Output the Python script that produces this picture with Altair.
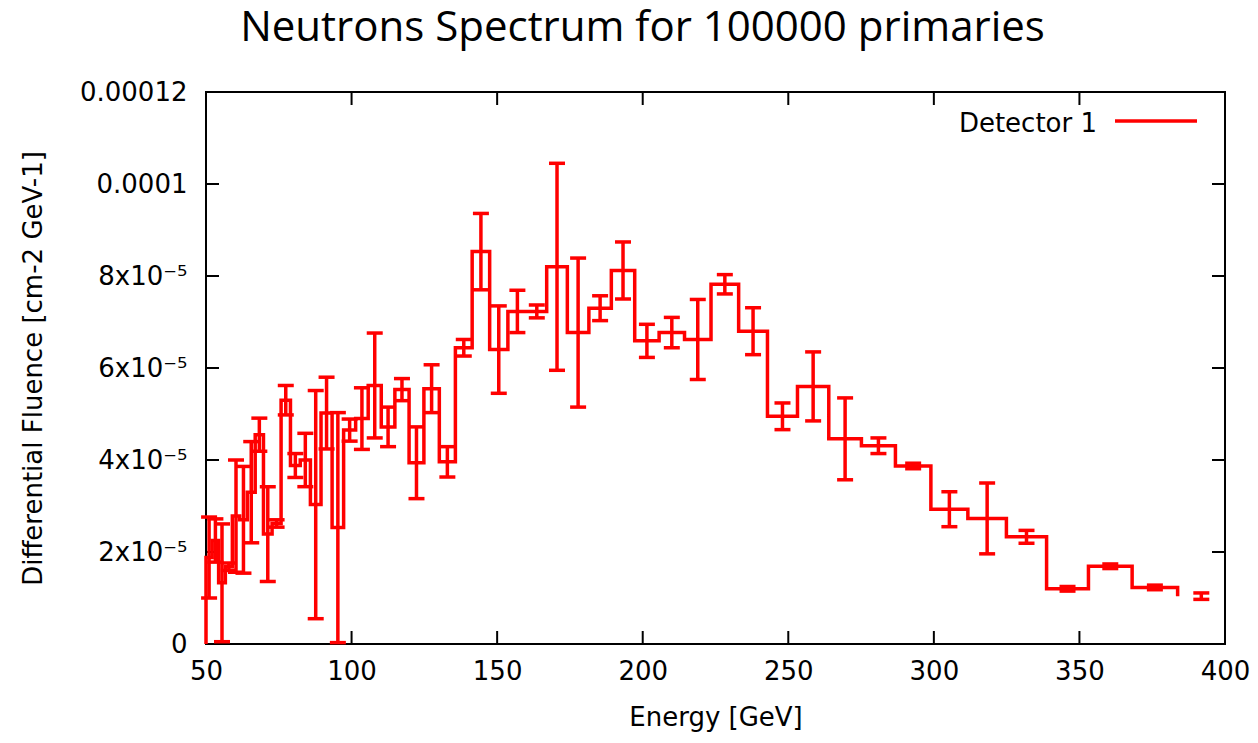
import altair as alt
import pandas as pd

title_text = "Neutrons Spectrum for 100000 primaries"
x_title = "Energy [GeV]"
y_title = "Differential Fluence [cm-2 GeV-1]"
series_name = "Detector 1"

# 50 logarithmic bins from 50 to 400 GeV (edges)
bin_edges = [50.00, 52.12, 54.34, 56.65, 59.05, 61.56, 64.17, 66.90, 69.74, 72.70,
             75.79, 79.01, 82.37, 85.86, 89.51, 93.31, 97.27, 101.40, 105.71, 110.20,
             114.87, 119.75, 124.84, 130.14, 135.66, 141.42, 147.43, 153.69, 160.22, 167.02,
             174.11, 181.51, 189.22, 197.25, 205.63, 214.36, 223.46, 232.95, 242.85, 253.16,
             263.91, 275.12, 286.80, 298.98, 311.68, 324.92, 338.72, 353.10, 368.10, 383.73,
             400.00]

# fluence per bin, in units of 1e-5 cm-2 GeV-1
fluence_e5 = [1.88, 2.25, 1.33, 1.68, 2.78, 2.70, 3.30, 4.55, 2.39, 2.62,
              5.30, 3.88, 4.00, 3.03, 5.02, 2.53, 4.65, 4.90, 5.62, 4.72,
              5.53, 3.94, 5.55, 3.96, 6.44, 8.53, 6.40, 7.23, 7.23, 8.20,
              6.77, 7.30, 8.12, 6.59, 6.77, 6.62, 7.82, 6.80, 4.95, 5.60,
              4.46, 4.31, 3.87, 2.93, 2.73, 2.33, 1.20, 1.69, 1.23, 1.04]

# statistical error per bin, same units
error_e5 = [0.88, 0.47, 1.28, 0.08, 1.22, 1.16, 1.10, 0.36, 1.03, 0.08,
            0.32, 0.26, 0.58, 2.48, 0.78, 2.50, 0.24, 0.67, 1.14, 0.43,
            0.24, 0.78, 0.52, 0.33, 0.18, 0.83, 0.95, 0.46, 0.14, 2.25,
            1.62, 0.27, 0.62, 0.36, 0.33, 0.87, 0.21, 0.51, 0.29, 0.75,
            0.89, 0.17, 0.06, 0.38, 0.77, 0.14, 0.05, 0.05, 0.05, 0.07]

x_ticks = [50, 100, 150, 200, 250, 300, 350, 400]
y_ticks = [0, 0.00002, 0.00004, 0.00006, 0.00008, 0.0001, 0.00012]

W, H = 1019, 552
RED = "#ff0000"
FONT = "DejaVu Sans"
LW = 3.5
TICK = 13

n = len(fluence_e5)
step_df = pd.DataFrame({
    "energy": [bin_edges[0]] + bin_edges[:n],
    "fluence": [0.0] + [v * 1e-5 for v in fluence_e5],
    "order": list(range(n + 1)),
})
centers = [(a + b) / 2 for a, b in zip(bin_edges[:-1], bin_edges[1:])]
err_df = pd.DataFrame({
    "energy": centers,
    "fluence": [(v - e) * 1e-5 for v, e in zip(fluence_e5, error_e5)],
    "hi": [(v + e) * 1e-5 for v, e in zip(fluence_e5, error_e5)],
})
caps_df = pd.DataFrame({
    "energy": centers + centers,
    "fluence": list(err_df["fluence"]) + list(err_df["hi"]),
})
xt_df = pd.DataFrame({"energy": x_ticks})
yt_df = pd.DataFrame({"fluence": y_ticks})
leg_df = pd.DataFrame({"label": [series_name]})

xscale = alt.Scale(domain=[50, 400], nice=False, zero=False)
yscale = alt.Scale(domain=[0, 0.00012], nice=False, zero=False)

xaxis = alt.Axis(values=x_ticks, ticks=False, domain=False, grid=False,
                 labelFont=FONT, labelFontSize=26, labelColor="black",
                 labelPadding=14, labelFlush=False, labelOverlap=False,
                 title=x_title, titleFont=FONT, titleFontSize=26,
                 titleFontWeight="normal", titleColor="black",
                 titleY=73, titleBaseline="middle")
yaxis = alt.Axis(values=y_ticks, ticks=False, domain=False, grid=False,
                 labelFont=FONT, labelFontSize=26, labelColor="black",
                 labelPadding=19, labelFlush=False, labelOverlap=False,
                 labelExpr="datum.value == 0 ? '0' : (datum.value > 0.00009 ? format(datum.value, '.5~f') : round(datum.value * 100000) + 'x10⁻⁵')",
                 title=y_title, titleFont=FONT, titleFontSize=26,
                 titleFontWeight="normal", titleColor="black",
                 titleX=-173, titleY=H / 2, titleAngle=270,
                 titleAlign="center", titleBaseline="middle")

X = alt.X("energy:Q", scale=xscale, axis=xaxis)
Y = alt.Y("fluence:Q", scale=yscale, axis=yaxis)

step = alt.Chart(step_df).mark_line(color=RED, strokeWidth=LW, interpolate="step-after").encode(
    x=X, y=Y, order="order:Q")
bars = alt.Chart(err_df).mark_rule(color=RED, strokeWidth=LW).encode(
    x=X, y=Y, y2="hi:Q")
caps = alt.Chart(caps_df).mark_tick(color=RED, orient="horizontal", size=16,
                                     thickness=LW, opacity=1).encode(x=X, y=Y)

bottom_ticks = alt.Chart(xt_df).mark_rule(color="black", strokeWidth=2).encode(
    x=X, y=alt.value(H), y2=alt.value(H - TICK))
top_ticks = alt.Chart(xt_df).mark_rule(color="black", strokeWidth=2).encode(
    x=X, y=alt.value(0), y2=alt.value(TICK))
left_ticks = alt.Chart(yt_df).mark_rule(color="black", strokeWidth=2).encode(
    y=Y, x=alt.value(0), x2=alt.value(TICK))
right_ticks = alt.Chart(yt_df).mark_rule(color="black", strokeWidth=2).encode(
    y=Y, x=alt.value(W - TICK), x2=alt.value(W))

leg_text = alt.Chart(leg_df).mark_text(align="right", baseline="alphabetic", font=FONT,
                                       fontSize=26, color="black").encode(
    x=alt.value(891), y=alt.value(40), text="label:N")
leg_line = alt.Chart(leg_df).mark_rule(color=RED, strokeWidth=LW).encode(
    x=alt.value(909), x2=alt.value(991), y=alt.value(29))

chart = alt.layer(
    bottom_ticks, top_ticks, left_ticks, right_ticks,
    step, bars, caps, leg_text, leg_line
).properties(
    width=W, height=H,
    autosize=alt.AutoSizeParams(type="none"),
    padding={"left": 198, "top": 84, "right": 25, "bottom": 91},
    title=alt.TitleParams(text=title_text, font="Open Sans", fontSize=42,
                          fontWeight="normal", color="black", anchor="middle",
                          frame="group", dx=-73, dy=14, baseline="alphabetic", offset=10),
).configure(background="white").configure_view(stroke="black", strokeWidth=2)

chart.save("out.html", embed_options={"renderer": "svg", "actions": False})
